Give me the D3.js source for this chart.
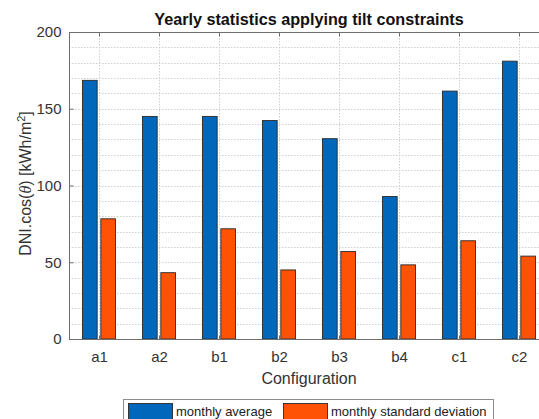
<!DOCTYPE html>
<html>
<head>
<meta charset="utf-8">
<script src="https://cdn.jsdelivr.net/npm/d3@7"></script>
<style>
  body { margin: 0; background: #fff; }
  svg { display: block; font-family: "Liberation Sans", Arial, sans-serif; }
</style>
</head>
<body>
<div id="chart"></div>
<script>
// values
var configs = ["a1", "a2", "b1", "b2", "b3", "b4", "c1", "c2"];
var monthlyAverage = [168.5, 145, 145, 142.3, 130.5, 92.8, 161.5, 181];
var monthlyStd = [78.3, 43.2, 71.8, 45, 57, 48.3, 64, 54];
var seriesNames = ["monthly average", "monthly standard deviation"];
var seriesColors = ["#0067BA", "#FF5204"];
var yTicks = [0, 50, 100, 150, 200];

var W = 539, H = 419;
// plot box (right edge runs off the picture, as in the reference)
var pLeft = 69, pRight = 549, pTop = 32, pBottom = 339;

var svg = d3.select("#chart").append("svg")
    .attr("width", W).attr("height", H);

var x = d3.scalePoint().domain(configs).range([pLeft, pRight]).padding(0.5);
var xs = d3.scaleBand().domain([0, 1]).range([-16.5, 16.5]).paddingInner(0.2);
var y = d3.scaleLinear().domain([0, 200]).range([pBottom, pTop]);

// grid: dotted, minor every 10
var grid = svg.append("g").attr("stroke", "#cfcfcf").attr("stroke-dasharray", "1.5,1.5");
grid.selectAll("line.h")
    .data(d3.range(10, 200, 10))
    .enter().append("line")
    .attr("x1", pLeft).attr("x2", pRight)
    .attr("y1", function(d) { return Math.round(y(d)) + 0.5; })
    .attr("y2", function(d) { return Math.round(y(d)) + 0.5; });
grid.selectAll("line.v")
    .data(configs)
    .enter().append("line")
    .attr("x1", function(d) { return x(d) + 0.5; })
    .attr("x2", function(d) { return x(d) + 0.5; })
    .attr("y1", pTop).attr("y2", pBottom);

// bars
var rows = configs.map(function(c, i) {
    return { cfg: c, vals: [monthlyAverage[i], monthlyStd[i]] };
});
var grp = svg.selectAll("g.grp")
    .data(rows)
    .enter().append("g")
    .attr("class", "grp")
    .attr("transform", function(d) { return "translate(" + x(d.cfg) + ",0)"; });
grp.selectAll("rect")
    .data(function(d) { return d.vals.map(function(v, k) { return { k: k, v: v }; }); })
    .enter().append("rect")
    .attr("x", function(d) { return xs(d.k); })
    .attr("width", xs.bandwidth())
    .attr("y", function(d) { return y(d.v); })
    .attr("height", function(d) { return y(0) - y(d.v); })
    .attr("fill", function(d) { return seriesColors[d.k]; })
    .attr("stroke", "#2a2a2a")
    .attr("stroke-width", 0.9);

// axes box
var axisCol = "#6e6e6e";
svg.append("rect")
    .attr("x", pLeft + 0.5).attr("y", pTop + 0.5)
    .attr("width", pRight - pLeft).attr("height", pBottom - pTop)
    .attr("fill", "none").attr("stroke", axisCol).attr("stroke-width", 1);

var yAxis = d3.axisLeft(y).tickValues(yTicks).tickSizeInner(-4).tickSizeOuter(0).tickPadding(8);
var gy = svg.append("g").attr("transform", "translate(" + (pLeft + 0.5) + ",0)").call(yAxis);
gy.select(".domain").remove();
gy.selectAll("line").attr("stroke", axisCol);
gy.selectAll("text").attr("font-size", 15).attr("fill", "#333")
    .attr("font-family", "Liberation Sans, Arial, sans-serif");

var xAxis = d3.axisBottom(x).tickSizeInner(-4).tickSizeOuter(0).tickPadding(12);
var gx = svg.append("g").attr("transform", "translate(0," + (pBottom + 0.5) + ")").call(xAxis);
gx.select(".domain").remove();
gx.selectAll("line").attr("stroke", axisCol);
gx.selectAll("text").attr("font-size", 15).attr("fill", "#333")
    .attr("font-family", "Liberation Sans, Arial, sans-serif");

var xTop = d3.axisTop(x).tickSizeInner(-4).tickSizeOuter(0).tickFormat("");
var gt = svg.append("g").attr("transform", "translate(0," + (pTop + 0.5) + ")").call(xTop);
gt.select(".domain").remove();
gt.selectAll("line").attr("stroke", axisCol);

// title and labels
svg.append("text")
    .attr("x", (pLeft + pRight) / 2).attr("y", 25)
    .attr("text-anchor", "middle")
    .attr("font-size", 16.2).attr("font-weight", "bold").attr("fill", "#111")
    .text("Yearly statistics applying tilt constraints");

svg.append("text")
    .attr("x", (pLeft + pRight) / 2).attr("y", 384)
    .attr("text-anchor", "middle")
    .attr("font-size", 16).attr("fill", "#333")
    .text("Configuration");

var yl = svg.append("text")
    .attr("transform", "translate(31," + ((pTop + pBottom) / 2 - 2) + ") rotate(-90)")
    .attr("text-anchor", "middle")
    .attr("font-size", 16).attr("fill", "#333");
yl.append("tspan").text("DNI.cos(");
yl.append("tspan").attr("font-style", "italic").attr("font-family", "Liberation Serif, serif").text("θ");
yl.append("tspan").text(") [kWh/m");
yl.append("tspan").attr("font-size", 11).attr("dy", -6).text("2");
yl.append("tspan").attr("dy", 6).text("]");

// legend
var lg = svg.append("g");
lg.append("rect")
    .attr("x", 123.5).attr("y", 399.5).attr("width", 370).attr("height", 28)
    .attr("fill", "#fff").attr("stroke", "#8c8c8c");
var legX = [128, 283];
seriesNames.forEach(function(name, k) {
    lg.append("rect")
        .attr("x", legX[k] + 0.5).attr("y", 403.5).attr("width", 44).attr("height", 16)
        .attr("fill", seriesColors[k]).attr("stroke", "#2a2a2a").attr("stroke-width", 0.9);
    lg.append("text")
        .attr("x", legX[k] + 48).attr("y", 416)
        .attr("font-size", 13).attr("fill", "#222")
        .text(name);
});
</script>
</body>
</html>
